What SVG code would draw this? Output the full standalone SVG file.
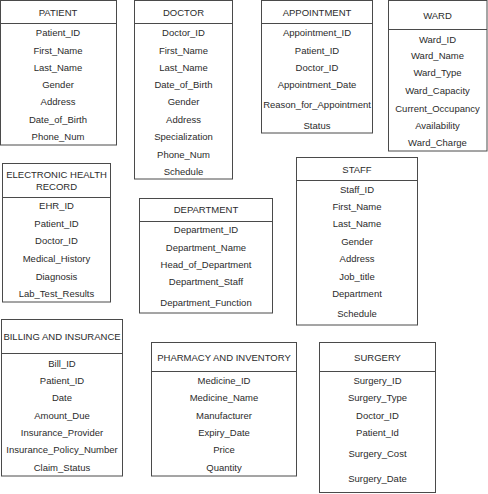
<svg xmlns="http://www.w3.org/2000/svg" width="488" height="494" viewBox="0 0 488 494">
<style>
rect{fill:#fff;stroke:#4a4a4a;stroke-width:1}
line{stroke:#4a4a4a;stroke-width:1}
text{font-family:"Liberation Sans",Arial,sans-serif;font-size:9.5px;fill:#2b2b2b;text-anchor:middle;dominant-baseline:central}
</style>
<rect x="0" y="0" width="488" height="494" style="stroke:none"/>
<g id="patient">
<rect x="0.5" y="0.5" width="116" height="144.5"/><line x1="0.5" y1="23.5" x2="116.5" y2="23.5"/>
<text x="58" y="12">PATIENT</text>
<text x="58" y="32">Patient_ID</text><text x="58" y="50">First_Name</text><text x="58" y="67">Last_Name</text><text x="58" y="84">Gender</text><text x="58" y="101">Address</text><text x="58" y="119">Date_of_Birth</text><text x="58" y="136">Phone_Num</text>
</g>
<g id="doctor">
<rect x="134.5" y="0.5" width="98" height="178.5"/><line x1="134.5" y1="23.5" x2="232.5" y2="23.5"/>
<text x="183.5" y="12">DOCTOR</text>
<text x="183.5" y="32">Doctor_ID</text><text x="183.5" y="50">First_Name</text><text x="183.5" y="67">Last_Name</text><text x="183.5" y="84">Date_of_Birth</text><text x="183.5" y="101">Gender</text><text x="183.5" y="119">Address</text><text x="183.5" y="136">Specialization</text><text x="183.5" y="154">Phone_Num</text><text x="183.5" y="171">Schedule</text>
</g>
<g id="appointment">
<rect x="261.5" y="0.5" width="111" height="132.5"/><line x1="261.5" y1="23.5" x2="372.5" y2="23.5"/>
<text x="317" y="12">APPOINTMENT</text>
<text x="317" y="32">Appointment_ID</text><text x="317" y="50">Patient_ID</text><text x="317" y="67">Doctor_ID</text><text x="317" y="84">Appointment_Date</text><text x="317" y="104">Reason_for_Appointment</text><text x="317" y="125">Status</text>
</g>
<g id="ward">
<rect x="388.5" y="0.5" width="98.5" height="150.5"/><line x1="388.5" y1="29.5" x2="487" y2="29.5"/>
<text x="437.5" y="15">WARD</text>
<text x="437.5" y="39">Ward_ID</text><text x="437.5" y="55">Ward_Name</text><text x="437.5" y="72">Ward_Type</text><text x="437.5" y="90">Ward_Capacity</text><text x="437.5" y="108">Current_Occupancy</text><text x="437.5" y="125">Availability</text><text x="437.5" y="142">Ward_Charge</text>
</g>
<g id="ehr">
<rect x="2.5" y="163.5" width="108" height="138.5"/><line x1="2.5" y1="197.5" x2="110.5" y2="197.5"/>
<text x="56.5" y="174">ELECTRONIC HEALTH</text><text x="56.5" y="186">RECORD</text>
<text x="56.5" y="205">EHR_ID</text><text x="56.5" y="223">Patient_ID</text><text x="56.5" y="240">Doctor_ID</text><text x="56.5" y="258">Medical_History</text><text x="56.5" y="276">Diagnosis</text><text x="56.5" y="293">Lab_Test_Results</text>
</g>
<g id="department">
<rect x="139.5" y="198.5" width="133" height="114.5"/><line x1="139.5" y1="221.5" x2="272.5" y2="221.5"/>
<text x="206" y="209">DEPARTMENT</text>
<text x="206" y="229">Department_ID</text><text x="206" y="247">Department_Name</text><text x="206" y="264">Head_of_Department</text><text x="206" y="281">Department_Staff</text><text x="206" y="302">Department_Function</text>
</g>
<g id="staff">
<rect x="296.5" y="157.5" width="121" height="167.5"/><line x1="296.5" y1="180.5" x2="417.5" y2="180.5"/>
<text x="357" y="169">STAFF</text>
<text x="357" y="189">Staff_ID</text><text x="357" y="206">First_Name</text><text x="357" y="223">Last_Name</text><text x="357" y="241">Gender</text><text x="357" y="258">Address</text><text x="357" y="276">Job_title</text><text x="357" y="293">Department</text><text x="357" y="313">Schedule</text>
</g>
<g id="billing">
<rect x="1.5" y="319.5" width="121" height="156.5"/><line x1="1.5" y1="353.5" x2="122.5" y2="353.5"/>
<text x="62" y="336">BILLING AND INSURANCE</text>
<text x="62" y="363">Bill_ID</text><text x="62" y="380">Patient_ID</text><text x="62" y="397">Date</text><text x="62" y="415">Amount_Due</text><text x="62" y="432">Insurance_Provider</text><text x="62" y="449">Insurance_Policy_Number</text><text x="62" y="467">Claim_Status</text>
</g>
<g id="pharmacy">
<rect x="151.5" y="342.5" width="145" height="133.5"/><line x1="151.5" y1="371.5" x2="296.5" y2="371.5"/>
<text x="224" y="357">PHARMACY AND INVENTORY</text>
<text x="224" y="380">Medicine_ID</text><text x="224" y="397">Medicine_Name</text><text x="224" y="415">Manufacturer</text><text x="224" y="432">Expiry_Date</text><text x="224" y="449">Price</text><text x="224" y="467">Quantity</text>
</g>
<g id="surgery">
<rect x="319.5" y="342.5" width="116" height="150"/><line x1="319.5" y1="371.5" x2="435.5" y2="371.5"/>
<text x="377.5" y="357">SURGERY</text>
<text x="377.5" y="380">Surgery_ID</text><text x="377.5" y="397">Surgery_Type</text><text x="377.5" y="415">Doctor_ID</text><text x="377.5" y="432">Patient_Id</text><text x="377.5" y="453">Surgery_Cost</text><text x="377.5" y="478">Surgery_Date</text>
</g>
</svg>
